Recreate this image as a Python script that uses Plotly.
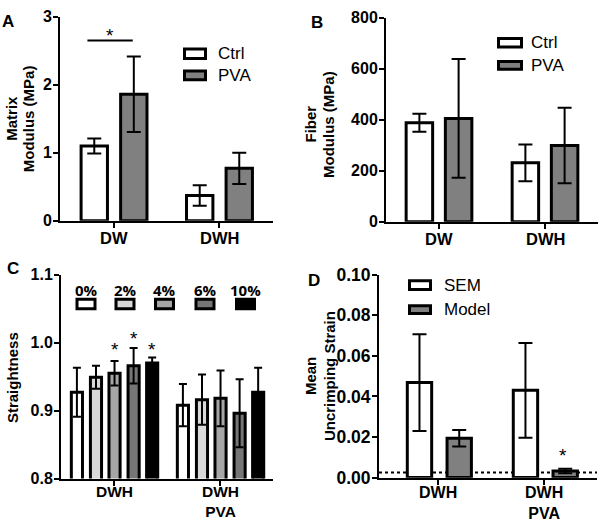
import plotly.graph_objects as go

W, H = 600, 529

# ---------------- data ----------------
groups_ab = ["DW", "DWH"]
matrix_ctrl = [1.10, 0.37]
matrix_ctrl_err = [0.11, 0.15]
matrix_pva = [1.86, 0.77]
matrix_pva_err = [0.555, 0.23]

fiber_ctrl = [388, 231]
fiber_ctrl_err = [35, 72]
fiber_pva = [405, 299]
fiber_pva_err = [233, 148]

groups_cd = ["DWH", "DWH<br>PVA"]
strain_labels = ["0%", "2%", "4%", "6%", "10%"]
strain_colors = ["#ffffff", "#d9d9d9", "#a6a6a6", "#767676", "#000000"]
straight_mean = {
    "0%": [0.927, 0.908],
    "2%": [0.949, 0.916],
    "4%": [0.955, 0.918],
    "6%": [0.966, 0.896],
    "10%": [0.970, 0.927],
}
straight_err = {
    "0%": [0.036, 0.031],
    "2%": [0.017, 0.037],
    "4%": [0.018, 0.041],
    "6%": [0.026, 0.050],
    "10%": [0.008, 0.036],
}

sem_mean = [0.0468, 0.0430]
sem_err = [0.0238, 0.0233]
model_mean = [0.0194, 0.0033]
model_err = [0.0041, 0.0011]
detection_limit = 0.0025

# ---------------- styling ----------------
FONT = "Liberation Sans, Arial, sans-serif"
BORDER = dict(color="black", width=3)
ERR = dict(type="data", visible=True, color="black", thickness=2)


def tf(size):
    return dict(family=FONT, size=size, color="black", weight="bold")


def px_x(x):
    return x / W


def px_y(y):
    return 1 - y / H


fig = go.Figure()

# Panel A
fig.add_trace(go.Bar(x=groups_ab, y=matrix_ctrl, offset=-0.31, width=0.25,
                     marker=dict(color="white", line=BORDER),
                     error_y=dict(array=matrix_ctrl_err, width=7, **ERR),
                     xaxis="x", yaxis="y", showlegend=False))
fig.add_trace(go.Bar(x=groups_ab, y=matrix_pva, offset=0.065, width=0.25,
                     marker=dict(color="#808080", line=BORDER),
                     error_y=dict(array=matrix_pva_err, width=7, **ERR),
                     xaxis="x", yaxis="y", showlegend=False))
# Panel B
fig.add_trace(go.Bar(x=groups_ab, y=fiber_ctrl, offset=-0.31, width=0.25,
                     marker=dict(color="white", line=BORDER),
                     error_y=dict(array=fiber_ctrl_err, width=7, **ERR),
                     xaxis="x2", yaxis="y2", showlegend=False))
fig.add_trace(go.Bar(x=groups_ab, y=fiber_pva, offset=0.06, width=0.25,
                     marker=dict(color="#808080", line=BORDER),
                     error_y=dict(array=fiber_pva_err, width=7, **ERR),
                     xaxis="x2", yaxis="y2", showlegend=False))
# Panel C
c_centers = [-0.35, -0.17, 0.005, 0.185, 0.36]
c_w = 0.105
for lab, col, cen in zip(strain_labels, strain_colors, c_centers):
    fig.add_trace(go.Bar(x=groups_cd, y=straight_mean[lab], offset=cen - c_w / 2, width=c_w,
                         marker=dict(color=col, line=BORDER),
                         error_y=dict(array=straight_err[lab], width=4, **ERR),
                         xaxis="x3", yaxis="y3", showlegend=False))
# Panel D
fig.add_trace(go.Bar(x=groups_cd, y=sem_mean, offset=-0.29, width=0.23,
                     marker=dict(color="white", line=BORDER),
                     error_y=dict(array=sem_err, width=7, **ERR),
                     xaxis="x4", yaxis="y4", showlegend=False))
fig.add_trace(go.Bar(x=groups_cd, y=model_mean, offset=0.085, width=0.23,
                     marker=dict(color="#808080", line=BORDER),
                     error_y=dict(array=model_err, width=7, **ERR),
                     xaxis="x4", yaxis="y4", showlegend=False))


def xax(dom, rng, anchor):
    return dict(domain=dom, range=rng, anchor=anchor, type="category",
                showline=True, linecolor="black", linewidth=2, mirror=False,
                ticks="outside", ticklen=5, tickwidth=2, tickcolor="black",
                showticklabels=False,
                showgrid=False, zeroline=False, fixedrange=True)


def yax(dom, rng, anchor, dtick, size, fmt=None):
    d = dict(domain=dom, range=rng, anchor=anchor, dtick=dtick, tick0=rng[0],
             showline=True, linecolor="black", linewidth=2,
             ticks="outside", ticklen=5, tickwidth=2, tickcolor="black",
             tickfont=tf(size), ticklabelstandoff=-2,
             showgrid=False, zeroline=False, fixedrange=True)
    if fmt:
        d["tickformat"] = fmt
    return d


fig.update_layout(
    width=W, height=H, margin=dict(l=0, r=0, t=0, b=0),
    paper_bgcolor="white", plot_bgcolor="white", barmode="overlay",
    xaxis=xax([px_x(60), px_x(273)], [-0.51, 1.51], "y"),
    yaxis=yax([px_y(219), px_y(7)], [0, 3], "x", 1, 16),
    xaxis2=xax([px_x(386), px_x(598)], [-0.5, 1.5], "y2"),
    yaxis2=yax([px_y(220), px_y(8)], [0, 800], "x2", 200, 16),
    xaxis3=xax([px_x(61), px_x(273)], [-0.5, 1.5], "y3"),
    yaxis3=yax([px_y(487), px_y(275)], [0.8, 1.1], "x3", 0.1, 16, ".1f"),
    xaxis4=xax([px_x(379), px_x(597)], [-0.557, 1.5], "y4"),
    yaxis4=yax([px_y(486), px_y(275)], [0, 0.1], "x4", 0.02, 17.5, ".2f"),
)

shapes = []
ann = []

# category labels under the x axes (tied to the category scale)
for xr, cats, size, yc in [("x", groups_ab, 16.5, 237),
                           ("x2", groups_ab, 16.5, 238),
                           ("x3", groups_cd, 15.5, 510.5),
                           ("x4", groups_cd, 16, 512)]:
    for cat in cats:
        ycen = yc if "<br>" in cat or xr in ("x", "x2") else yc - (10.2 if xr == "x3" else 10.5)
        ann.append(dict(xref=xr, yref="paper", x=cat, y=px_y(ycen), text=cat,
                        showarrow=False, xanchor="center", yanchor="middle",
                        font=tf(size)))

STAR = dict(family=FONT, size=19, color="black")
# significance line panel A
shapes.append(dict(type="line", xref="x", yref="y", x0=-0.25, x1=0.18, y0=2.65, y1=2.65,
                   line=dict(color="black", width=2)))
ann.append(dict(xref="x", yref="y", x=-0.04, y=2.724, text="*", showarrow=False, font=STAR))

# detection limit panel D
shapes.append(dict(type="line", xref="x4 domain", yref="y4", x0=0, x1=1,
                   y0=detection_limit, y1=detection_limit, layer="below",
                   line=dict(color="black", width=2, dash="dot")))
ann.append(dict(xref="x4", yref="y4", x=1.18, y=0.0107, text="*", showarrow=False, font=STAR))

# stars panel C
for cen, yv in [(c_centers[2], 0.990), (c_centers[3], 1.006), (c_centers[4], 0.990)]:
    ann.append(dict(xref="x3", yref="y3", x=cen, y=yv, text="*", showarrow=False, font=STAR))


def legend_box(x0, x1, y0, y1, color):
    shapes.append(dict(type="rect", xref="paper", yref="paper",
                       x0=px_x(x0 + 1.5), x1=px_x(x1 - 1.5), y0=px_y(y1 - 1.5), y1=px_y(y0 + 1.5),
                       fillcolor=color, line=dict(color="black", width=3)))


def legend_text(x, y, text, size=17):
    ann.append(dict(xref="paper", yref="paper", x=px_x(x), y=px_y(y), text=text,
                    showarrow=False, xanchor="left", yanchor="middle",
                    font=dict(family=FONT, size=size, color="black")))


# legend A
legend_box(183, 207, 39, 52, "white")
legend_box(183, 207, 62, 74, "#808080")
legend_text(216, 45.5, "Ctrl")
legend_text(216, 68, "PVA")
# legend B
legend_box(497, 523, 28, 40, "white")
legend_box(497, 523, 52, 63, "#808080")
legend_text(529, 34, "Ctrl")
legend_text(529, 57.5, "PVA")
# legend D
legend_box(408, 432, 280, 292, "white")
legend_box(408, 432, 306, 317, "#808080")
legend_text(442, 286, "SEM")
legend_text(442, 311.5, "Model")
# legend C
for lab, col, cx in zip(strain_labels, strain_colors, [86, 125, 164.5, 205, 245.5]):
    legend_box(cx - 10.5, cx + 10.5, 299, 312, col)
    ann.append(dict(xref="paper", yref="paper", x=px_x(cx), y=px_y(290.5), text=lab,
                    showarrow=False, xanchor="center", yanchor="middle",
                    font=dict(family="Open Sans, sans-serif", size=15, color="black",
                              weight="bold")))

# panel letters
for t, x, y in [("A", 8, 11.5), ("B", 316.5, 12.5), ("C", 12.5, 268.5), ("D", 314, 281)]:
    ann.append(dict(xref="paper", yref="paper", x=px_x(x), y=px_y(y), text=t,
                    showarrow=False, xanchor="center", yanchor="middle",
                    font=dict(family=FONT, size=17, color="black", weight="bold")))

# axis titles (one rotated text per line)
for t, x, y in [("Matrix", 12, 113), ("Modulus (MPa)", 28.5, 113),
                ("Fiber", 311, 119), ("Modulus (MPa)", 328.5, 119),
                ("Straightness", 12.5, 382),
                ("Mean", 310.5, 381), ("Uncrimping Strain", 329.5, 381)]:
    ann.append(dict(xref="paper", yref="paper", x=px_x(x), y=px_y(y), text=t,
                    textangle=-90, showarrow=False, xanchor="center", yanchor="middle",
                    font=dict(family=FONT, size=15, color="black", weight="bold")))

fig.update_layout(shapes=shapes, annotations=ann)
fig.write_html("out.html", config={"displayModeBar": False},
               post_script="document.body.style.margin='0';document.body.style.overflow='hidden';")
